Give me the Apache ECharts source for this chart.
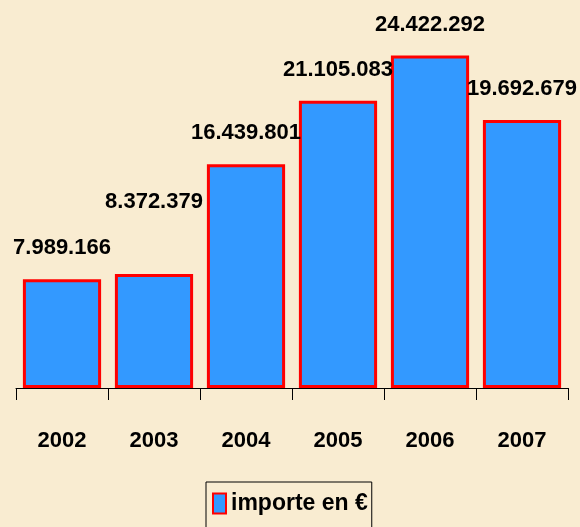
<!DOCTYPE html>
<html>
<head>
<meta charset="utf-8">
<script src="https://cdn.jsdelivr.net/npm/echarts@6/dist/echarts.min.js"></script>
<style>
  html, body { margin: 0; padding: 0; background: #f9ecd1; }
  #chart { width: 580px; height: 527px; }
</style>
</head>
<body>
<div id="chart"></div>
<script>
var years = ['2002', '2003', '2004', '2005', '2006', '2007'];
var importe = [7989166, 8372379, 16439801, 21105083, 24422292, 19692679];
var seriesName = 'importe en €';

var font = '"Liberation Sans", Arial, sans-serif';

function fmt(v) {
  return String(v).replace(/\B(?=(\d{3})+(?!\d))/g, '.');
}

// 2003's label was lifted in the original so it clears the 2002 one
var barData = importe.map(function (v, i) {
  if (years[i] === '2003') return { value: v, label: { distance: 61 } };
  return v;
});

var chart = echarts.init(document.getElementById('chart'));
chart.setOption({
  backgroundColor: '#f9ecd1',
  animation: false,
  grid: { left: 16, right: 12, top: 0, bottom: 139 },
  legend: {
    data: [seriesName],
    top: 482,
    left: 206,
    padding: [10, 4, 14, 6],
    borderColor: '#000',
    borderWidth: 1,
    icon: 'rect',
    itemWidth: 13,
    itemHeight: 20,
    textStyle: { fontFamily: font, fontWeight: 'bold', fontSize: 23, color: '#000' }
  },
  xAxis: {
    type: 'category',
    data: years,
    axisLine: { lineStyle: { color: '#000', width: 1 } },
    axisTick: { show: true, length: 12, lineStyle: { color: '#000' } },
    axisLabel: { margin: 42, fontFamily: font, fontWeight: 'bold', fontSize: 22, color: '#000' }
  },
  yAxis: {
    type: 'value',
    min: 0,
    max: 28500000,
    show: false,
    splitLine: { show: false }
  },
  series: [{
    name: seriesName,
    type: 'bar',
    data: barData,
    barCategoryGap: '15%',
    itemStyle: { color: '#3399ff', borderColor: '#ff0000', borderWidth: 3 },
    label: {
      show: true,
      position: 'top',
      distance: 20,
      formatter: function (p) { return fmt(p.value); },
      fontFamily: font,
      fontWeight: 'bold',
      fontSize: 22,
      color: '#000'
    }
  }]
});
</script>
</body>
</html>
